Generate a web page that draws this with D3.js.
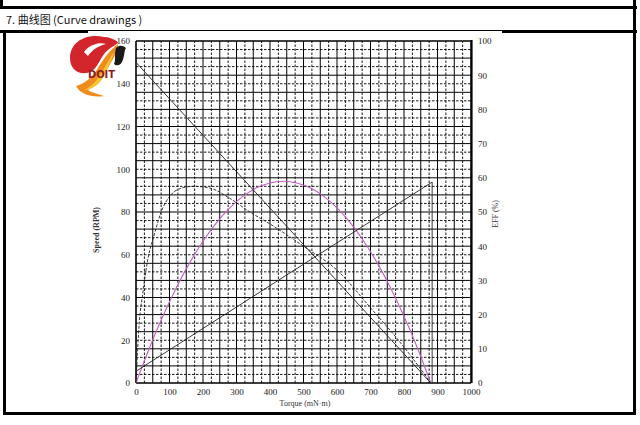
<!DOCTYPE html>
<html><head><meta charset="utf-8">
<script src="https://cdn.jsdelivr.net/npm/d3@7"></script>
<style>body{margin:0;background:#fff}svg{display:block}</style>
</head><body>
<svg id="c" width="640" height="425"></svg>
<script>
// ---- data ----
const xTicks = [0,100,200,300,400,500,600,700,800,900,1000];
const leftTicks = [0,20,40,60,80,100,120,140,160];
const rightTicks = [0,10,20,30,40,50,60,70,80,90,100];

const speedTorque = [0, 880];
const speedVal = [150, 0];

const currentTorque = [0, 884, 884];
const currentVal = [5.5, 94, 0];

const powerTorque = [0,40,80,120,160,200,240,280,320,360,400,440,480,520,560,600,640,680,720,760,800,840,880];
const powerVal = [0,16.4,31.2,44.5,56.2,66.3,74.9,81.9,87.4,91.3,93.6,94.4,93.6,91.3,87.4,81.9,74.9,66.3,56.2,44.5,31.2,16.4,0];

const effTorque = [0,5,10,20,35,55,75,100,130,170,220,280,340,400,500,600,700,800,880];
const effVal = [0,10,18,26,36,43.5,50,54.5,56.8,57.5,57,54,50,46.5,40,33,22,10.5,0];

// ---- chart ----
const svg = d3.select("#c");
const x = d3.scaleLinear().domain([0,1000]).range([136,471]);
const yL = d3.scaleLinear().domain([0,160]).range([383,41]);
const yR = d3.scaleLinear().domain([0,100]).range([383,41]);

// page frame
const frame = svg.append("g").attr("stroke","#000").attr("stroke-width",3);
frame.append("line").attr("x1",0).attr("x2",637).attr("y1",7.5).attr("y2",7.5);
frame.append("line").attr("x1",0).attr("x2",637).attr("y1",31.5).attr("y2",31.5);
frame.append("line").attr("x1",1.5).attr("x2",1.5).attr("y1",0).attr("y2",8);
frame.append("line").attr("x1",4.5).attr("x2",4.5).attr("y1",31).attr("y2",415);
frame.append("line").attr("x1",634.5).attr("x2",634.5).attr("y1",0).attr("y2",415);
frame.append("line").attr("x1",3).attr("x2",636).attr("y1",413.5).attr("y2",413.5);
svg.append("rect").attr("x",88).attr("y",30).attr("width",414).attr("height",3).attr("fill","#fff");
svg.append("line").attr("x1",88).attr("x2",502).attr("y1",30.5).attr("y2",30.5).attr("stroke","#000").attr("stroke-width",1);

svg.append("text").attr("x",6).attr("y",24)
  .attr("font-family","'Noto Sans CJK SC', 'Noto Sans', sans-serif").attr("font-size",11).attr("fill","#111")
  .text("7. 曲线图 (Curve drawings )");

// grid
const grid = svg.append("g");
const vLines = d3.range(0, 41).map(i => i*25);
const hLines = d3.range(0, 41).map(i => i*2.5);
grid.selectAll(".v").data(vLines).join("line")
  .attr("x1",d=>x(d)).attr("x2",d=>x(d)).attr("y1",yR(0)).attr("y2",yR(100))
  .attr("stroke","#000")
  .attr("stroke-width",(d,i)=> i%2===0 ? 1 : 0.9)
  .attr("stroke-dasharray",(d,i)=> i%2===0 ? null : "2.5,1.5");
grid.selectAll(".h").data(hLines).join("line")
  .attr("x1",x(0)).attr("x2",x(1000)).attr("y1",d=>yR(d)).attr("y2",d=>yR(d))
  .attr("stroke","#000")
  .attr("stroke-width",(d,i)=> i%2===0 ? 1 : 0.9)
  .attr("stroke-dasharray",(d,i)=> i%2===0 ? null : "2.5,1.5");

// axes borders
svg.append("line").attr("x1",x(0)).attr("x2",x(0)).attr("y1",yL(0)).attr("y2",yL(160)).attr("stroke","#000").attr("stroke-width",1.2);
svg.append("line").attr("x1",x(1000)+0.5).attr("x2",x(1000)+0.5).attr("y1",yL(0)).attr("y2",yL(160)-1).attr("stroke","#000").attr("stroke-width",2.2);
svg.append("line").attr("x1",x(0)).attr("x2",x(1000)).attr("y1",yL(0)).attr("y2",yL(0)).attr("stroke","#000").attr("stroke-width",1.2);
svg.append("line").attr("x1",x(0)).attr("x2",x(1000)).attr("y1",yL(160)).attr("y2",yL(160)).attr("stroke","#000").attr("stroke-width",1);

const tf = "'Liberation Serif', 'Times New Roman', serif";
const fmt = d3.format("d");
const axB = d3.axisBottom(x).tickValues(xTicks).tickFormat(fmt).tickSize(0).tickPadding(6);
const gB = svg.append("g").attr("transform",`translate(0,${yL(0)})`).call(axB);
const axL = d3.axisLeft(yL).tickValues(leftTicks).tickFormat(fmt).tickSize(0).tickPadding(6);
const gL = svg.append("g").attr("transform",`translate(${x(0)},0)`).call(axL);
const axR = d3.axisRight(yR).tickValues(rightTicks).tickFormat(fmt).tickSize(0).tickPadding(7);
const gR = svg.append("g").attr("transform",`translate(${x(1000)},0)`).call(axR);
[gB,gL,gR].forEach(g=>{
  g.select(".domain").remove();
  g.selectAll("text").attr("font-family",tf).attr("font-size",9).attr("fill","#222");
});

// axis titles
svg.append("text").attr("transform","translate(99,230) rotate(-90)").attr("text-anchor","middle")
  .attr("font-family",tf).attr("font-size",8).attr("font-weight","bold").attr("fill","#333").text("Speed (RPM)");
svg.append("text").attr("transform","translate(498,214) rotate(-90)").attr("text-anchor","middle")
  .attr("font-family",tf).attr("font-size",8).attr("fill","#333").text("EFF (%)");
svg.append("text").attr("x",305).attr("y",406).attr("text-anchor","middle")
  .attr("font-family",tf).attr("font-size",8).attr("fill","#333").text("Torque (mN·m)");

// series
const lineL = d3.line().x(d=>x(d[0])).y(d=>yL(d[1]));
const curveL = d3.line().x(d=>x(d[0])).y(d=>yL(d[1])).curve(d3.curveMonotoneX);
const curveR = d3.line().x(d=>x(d[0])).y(d=>yR(d[1])).curve(d3.curveMonotoneX);

svg.append("path").datum(d3.zip(powerTorque,powerVal)).attr("d",curveL)
  .attr("fill","none").attr("stroke","#c45ec4").attr("stroke-width",1.1);
svg.append("path").datum(d3.zip(speedTorque,speedVal)).attr("d",lineL)
  .attr("fill","none").attr("stroke","#222").attr("stroke-width",0.9);
svg.append("path").datum(d3.zip(currentTorque,currentVal)).attr("d",lineL)
  .attr("fill","none").attr("stroke","#222").attr("stroke-width",0.9);
svg.append("path").datum(d3.zip(effTorque,effVal)).attr("d",curveR)
  .attr("fill","none").attr("stroke","#222").attr("stroke-width",0.9).attr("stroke-dasharray","3,1.5");

// logo
const logo = svg.append("g");
logo.append("path").attr("d","M104 37 C86 33 70 42 70 58 C70 70 80 76 90 72 C99 68 100 56 108 50 C113 46 118 44 118 42 C114 39 109 37 104 37 Z").attr("fill","#d3262c");
logo.append("path").attr("d","M84 52 C90 44 100 42 106 44 C98 46 92 50 88 56 Z").attr("fill","#fff");
logo.append("path").attr("d","M118 44 C110 50 104 58 98 68 C92 78 84 84 76 86 C80 94 92 98 104 96 C98 94 90 92 88 90 C96 86 102 78 108 68 C112 60 118 52 118 44 Z").attr("fill","#f08c1e");
logo.append("path").attr("d","M114 52 C108 60 104 70 98 78 C94 84 88 88 84 90 C92 90 100 84 104 76 C108 68 112 60 114 52 Z").attr("fill","#f6c431");
logo.append("path").attr("d","M116 48 C120 44 124 46 126 48 C124 50 125 56 122 62 C120 66 116 66 114 64 C116 60 114 54 116 48 Z").attr("fill","#1a1a1a");
logo.append("text").attr("x",115).attr("y",78).attr("text-anchor","end")
  .attr("font-family","'DejaVu Sans Condensed', 'DejaVu Sans', sans-serif").attr("font-weight","bold")
  .attr("font-size",11).attr("fill","#8e1d22").text("DOIT");
</script>
</body></html>
